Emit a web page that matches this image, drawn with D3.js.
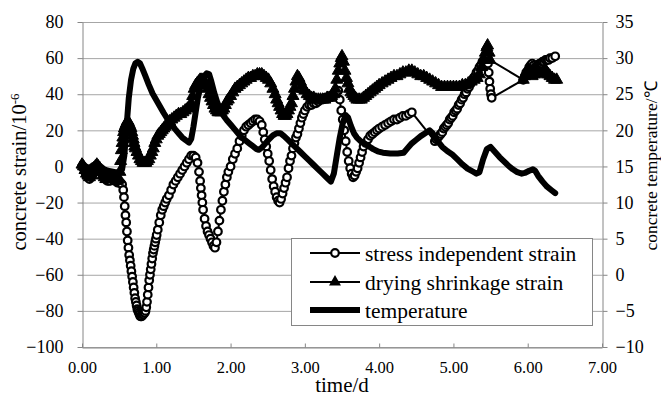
<!DOCTYPE html>
<html>
<head>
<meta charset="utf-8">
<script src="https://cdn.jsdelivr.net/npm/d3@7"></script>
<style>
  html, body { margin: 0; padding: 0; background: #fff; }
  svg { display: block; font-family: "Liberation Serif", "Times New Roman", serif; }
  svg text { font-family: "Liberation Serif", "Times New Roman", serif; }
</style>
</head>
<body>
<svg id="chart" width="661" height="396"></svg>
<script>
// ---------------- DATA ----------------
const xTicks = [0, 1, 2, 3, 4, 5, 6, 7];
const yLeftTicks = [-100, -80, -60, -40, -20, 0, 20, 40, 60, 80];
const yRightTicks = [-10, -5, 0, 5, 10, 15, 20, 25, 30, 35];
const seriesNames = ["stress independent strain", "drying shrinkage strain", "temperature"];

// stress independent strain (time/d , strain 10^-6)
const circT = [0.00,0.02,0.04,0.06,0.08,0.10,0.12,0.14,0.16,0.18,0.20,0.22,0.24,0.26,0.28,0.30,0.32,0.34,0.36,0.38,0.40,0.42,0.44,0.46,0.48,0.50,0.52,0.54,
  0.555,0.565,0.575,0.585,0.595,0.605,0.615,0.625,0.635,0.645,0.655,0.665,0.675,0.685,0.695,0.705,0.715,0.725,0.735,0.745,0.755,0.765,0.775,0.785,0.795,0.805,0.815,0.825,0.835,0.845,0.855,0.865,0.875,0.885,0.895,0.905,0.915,0.925,0.935,0.945,0.955,0.965,0.975,0.985,0.995,1.005,
  1.02,1.04,1.06,1.08,1.10,1.12,1.14,1.17,1.20,1.23,1.26,1.29,1.32,1.35,1.38,1.41,1.44,1.47,1.50,1.53,1.555,1.575,1.59,1.60,1.61,1.62,1.63,1.65,1.67,1.69,1.71,1.73,1.75,1.77,1.79,
  1.81,1.83,1.85,1.87,1.89,1.91,1.93,1.95,1.97,2.00,2.03,2.06,2.09,2.12,2.15,2.18,2.21,2.24,2.27,2.30,2.33,2.36,2.39,2.42,2.44,2.46,2.48,2.50,2.52,2.54,2.56,2.58,2.60,2.62,2.64,2.66,
  2.68,2.70,2.72,2.74,2.76,2.78,2.80,2.82,2.84,2.86,2.88,2.90,2.92,2.94,2.96,2.98,3.00,3.03,3.06,3.09,3.12,3.15,3.18,3.21,3.24,3.27,3.30,3.33,3.36,3.39,3.42,3.45,
  3.47,3.49,3.51,3.53,3.55,3.57,3.59,3.61,3.63,3.65,3.67,3.69,3.71,3.73,3.75,3.77,3.79,3.82,3.85,3.88,3.91,3.94,3.97,4.00,4.04,4.08,4.12,4.16,4.20,4.24,4.28,4.32,4.36,4.40,4.44,
  4.75,4.77,4.79,4.81,4.83,4.85,4.87,4.89,4.91,4.93,4.95,4.97,4.99,5.01,5.03,5.05,5.07,5.09,5.11,5.13,5.15,5.17,5.19,5.21,5.23,5.25,5.27,5.29,5.31,5.33,5.35,5.37,5.39,5.41,5.43,5.45,
  5.465,5.475,5.485,5.495,5.505,5.515,
  5.94,5.96,5.98,6.00,6.02,6.04,6.06,6.08,6.10,6.12,6.14,6.16,6.18,6.20,6.22,6.24,6.26,6.28,6.30,6.33,6.37];
const circV = [0,-1,-3,-5,-6,-7,-6,-5,-3,-2,-1,-1,-2,-3,-5,-6,-7,-8,-8,-8,-7,-7,-8,-8,-9,-9,-9,-10,
  -13,-17,-22,-27,-31,-36,-41,-45,-49,-52,-55,-58,-61,-64,-67,-70,-73,-75,-77,-79,-80,-81,-82,-83,-83,-83,-82,-82,-81,-81,-80,-78,-75,-71,-67,-63,-60,-57,-54,-51,-48,-46,-44,-42,-40,-38,
  -35,-31,-27,-24,-22,-20,-18,-16,-13,-10,-8,-6,-4,-2,0,2,4,6,6,5,2,-3,-8,-12,-16,-20,-24,-29,-33,-36,-38,-40,-42,-44,-45,
  -42,-36,-30,-24,-19,-14,-10,-6,-3,0,4,7,10,14,17,20,22,23,24,25,26,26,25,23,19,15,11,7,3,-2,-7,-11,-14,-17,-19,-20,
  -18,-15,-12,-9,-6,-1,3,6,10,13,16,18,21,24,27,29,31,33,34,34,35,35,36,37,37,38,38,39,39,40,41,42,
  37,31,26,20,14,8,3,-1,-4,-6,-5,-3,-1,2,5,8,11,13,15,17,18,19,20,21,22,23,24,25,26,26,27,28,28,29,30,
  14,15,16,17,18,19,21,22,23,24,26,27,28,30,31,32,34,35,37,38,40,41,43,44,46,47,49,50,52,53,55,56,58,59,61,62,
  57,52,47,43,40,38,
  48,50,52,53,55,56,57,56,55,55,56,57,57,58,58,59,59,59,60,60,61];

// drying shrinkage strain (time/d , strain 10^-6)
const triT = [0.00,0.02,0.04,0.06,0.08,0.10,0.12,0.14,0.16,0.18,0.20,0.22,0.24,0.26,0.28,0.30,0.32,0.34,0.36,0.38,0.40,0.42,0.44,0.46,0.48,0.50,
  0.51,0.52,0.53,0.54,0.55,0.56,0.57,0.58,0.59,0.60,0.61,0.62,0.63,0.64,0.65,0.66,0.67,0.68,0.69,0.70,0.71,0.72,0.74,0.76,0.78,0.80,0.82,0.84,0.86,0.88,0.90,0.92,0.94,0.96,0.98,
  1.00,1.02,1.04,1.06,1.08,1.10,1.12,1.15,1.18,1.21,1.24,1.27,1.30,1.33,1.36,1.39,1.42,1.45,1.47,1.49,1.51,1.53,1.55,1.57,1.59,1.61,1.63,1.65,1.67,1.69,1.71,1.73,1.75,1.77,1.79,
  1.81,1.83,1.85,1.87,1.89,1.91,1.93,1.95,1.97,2.00,2.03,2.06,2.09,2.12,2.15,2.18,2.21,2.24,2.27,2.30,2.33,2.36,2.39,2.42,2.45,2.48,2.51,2.54,2.57,2.60,2.62,2.64,2.66,2.68,2.70,
  2.72,2.74,2.76,2.78,2.80,2.82,2.84,2.86,2.88,2.90,2.92,2.94,2.96,2.98,3.00,3.03,3.06,3.09,3.12,3.15,3.18,3.21,3.24,3.27,3.30,3.33,3.36,3.39,3.41,3.43,3.45,3.47,3.49,3.50,
  3.52,3.54,3.56,3.58,3.60,3.62,3.64,3.66,3.68,3.70,3.73,3.76,3.79,3.82,3.85,3.88,3.91,3.94,3.97,4.00,4.04,4.08,4.12,4.16,4.20,4.24,4.28,4.32,4.36,4.40,4.44,
  4.48,4.52,4.56,4.60,4.64,4.68,4.72,4.76,4.80,4.84,4.88,4.92,4.96,5.00,5.04,5.08,5.12,5.16,5.20,5.24,5.28,5.32,5.35,5.38,5.41,5.43,5.45,5.46,5.48,5.49,
  5.94,5.96,5.98,6.00,6.02,6.04,6.06,6.08,6.10,6.12,6.14,6.16,6.18,6.20,6.22,6.24,6.26,6.28,6.30,6.33,6.36,6.39];
const triV = [1,0,-2,-4,-5,-6,-5,-3,-1,0,1,0,-1,-3,-5,-6,-7,-7,-7,-6,-6,-7,-7,-8,-8,-7,
  -3,3,9,13,16,19,21,22,23,24,25,25,24,23,22,21,19,17,15,13,11,10,8,6,4,3,2,2,2,3,4,6,8,10,13,
  15,17,18,19,20,21,22,23,25,26,27,28,29,29,30,31,32,33,35,39,43,45,46,47,48,48,48,47,45,43,40,38,36,34,32,
  31,30,30,30,31,32,34,36,37,39,41,43,44,45,46,47,48,49,49,50,50,51,51,51,50,49,48,46,43,40,37,35,33,31,29,
  28,28,29,31,33,35,39,43,47,50,49,47,45,43,42,40,39,38,38,37,37,37,37,37,38,38,39,40,43,48,53,57,60,61,
  58,53,49,46,43,41,40,39,38,37,37,37,38,39,40,41,42,43,44,45,46,47,48,49,50,50,51,52,52,53,53,
  52,51,50,50,49,48,47,46,45,44,44,44,44,44,44,44,45,45,46,47,48,49,51,55,59,63,66,67,63,59,
  48,50,52,53,52,51,50,51,52,53,53,52,51,52,53,53,52,51,50,49,48,48];

// temperature (time/d , °C)
const tempT = [0.00,0.05,0.10,0.15,0.20,0.25,0.30,0.35,0.40,0.45,0.50,0.54,0.57,0.60,0.63,0.66,0.69,0.72,0.75,0.78,0.81,0.85,0.90,0.95,1.00,1.05,1.10,1.15,1.20,1.25,1.30,1.35,1.40,1.44,1.47,
  1.50,1.53,1.56,1.60,1.64,1.68,1.71,1.74,1.78,1.82,1.86,1.90,1.95,2.00,2.05,2.10,2.15,2.20,2.25,2.30,2.35,2.38,2.42,2.47,2.52,2.57,2.62,2.67,2.72,2.77,2.82,2.88,2.94,
  3.00,3.06,3.12,3.18,3.24,3.30,3.35,3.39,3.43,3.47,3.51,3.55,3.58,3.62,3.66,3.70,3.75,3.80,3.86,3.92,3.98,4.05,4.15,4.25,4.33,4.38,4.44,4.50,4.56,4.62,4.68,
  4.72,4.78,4.85,4.92,4.98,5.05,5.12,5.19,5.26,5.31,5.35,5.40,5.45,5.50,5.56,5.62,5.68,5.74,5.80,5.86,5.92,5.96,6.02,6.07,6.10,6.14,6.20,6.26,6.32,6.37];
const tempV = [15.5,15.0,14.8,15.2,15.4,15.0,14.6,14.4,14.3,14.2,14.2,14.6,16.5,20.5,24.5,27.0,28.5,29.3,29.5,29.3,28.6,27.6,26.3,25.1,24.2,23.3,22.4,21.6,20.9,20.2,19.6,19.0,18.6,18.3,18.8,
  20.5,22.5,24.5,26.3,27.4,27.9,27.8,26.8,25.2,23.9,22.9,22.1,21.4,20.8,20.2,19.6,19.0,18.6,18.2,17.8,17.4,17.3,17.6,18.2,18.8,19.3,19.6,19.6,19.2,18.7,18.2,17.6,17.0,
  16.4,15.8,15.2,14.6,14.0,13.4,12.9,14.0,16.5,19.0,21.0,22.1,21.8,20.6,19.6,19.0,18.5,18.2,17.8,17.4,17.1,16.9,16.8,16.8,16.9,17.5,18.2,18.7,19.2,19.6,20.0,
  19.6,18.6,17.7,17.1,16.7,16.0,15.3,14.7,14.3,14.0,14.2,16.0,17.4,17.7,17.0,16.3,15.7,15.1,14.6,14.2,14.0,14.1,14.4,14.6,14.4,13.7,12.9,12.2,11.7,11.3];

// ---------------- CHART ----------------
const svg = d3.select("#chart");
const W = 661, H = 396;
const m = {l: 82, r: 59, t: 22, b: 49};
const x = d3.scaleLinear().domain([0, 7]).range([m.l, W - m.r]);
const yL = d3.scaleLinear().domain([-100, 80]).range([H - m.b, m.t]);
const yR = d3.scaleLinear().domain([-10, 35]).range([H - m.b, m.t]);
const axisCol = "#868686";
const gridCol = "#a6a6a6";
const FONT = "Liberation Serif";

// gridlines
svg.append("g").selectAll("line").data(yLeftTicks).join("line")
  .attr("x1", x(0)).attr("x2", x(7))
  .attr("y1", d => yL(d) + 0.5).attr("y2", d => yL(d) + 0.5)
  .attr("stroke", gridCol).attr("stroke-width", 1);

// axes
function styleAxis(g, fs) {
  g.attr("font-family", FONT).attr("font-size", fs);
  g.selectAll(".domain").attr("stroke", axisCol).attr("stroke-width", 1);
  g.selectAll(".tick line").attr("stroke", axisCol).attr("stroke-width", 1);
  g.selectAll("text").attr("fill", "#000").style("font-family", FONT).style("font-size", fs + "px");
}
const gL = svg.append("g").attr("transform", `translate(${m.l + 0.5},0)`)
  .call(d3.axisLeft(yL).tickValues(yLeftTicks).tickSizeInner(5).tickSizeOuter(0).tickPadding(14).tickFormat(d3.format("d")));
styleAxis(gL, 18);
const gR = svg.append("g").attr("transform", `translate(${W - m.r + 0.5},0)`)
  .call(d3.axisRight(yR).tickValues(yRightTicks).tickSizeInner(5).tickSizeOuter(0).tickPadding(8).tickFormat(d3.format("d")));
styleAxis(gR, 18);
const gB = svg.append("g").attr("transform", `translate(0,${H - m.b + 0.5})`)
  .call(d3.axisBottom(x).tickValues(xTicks).tickSizeInner(-4).tickSizeOuter(0).tickPadding(14).tickFormat(d3.format(".2f")));
styleAxis(gB, 16.5);

// axis titles
svg.append("text").attr("transform", `translate(26,172) rotate(-90)`)
  .attr("text-anchor", "middle").style("font-size", "20.5px")
  .call(t => {
    t.append("tspan").text("concrete strain/10");
    t.append("tspan").attr("dy", "-0.55em").style("font-size", "13px").text("-6");
  });
svg.append("text").attr("transform", `translate(657,166) rotate(-90)`)
  .attr("text-anchor", "middle").style("font-size", "17.5px")
  .text("concrete temperature/℃");
svg.append("text").attr("x", (m.l + W - m.r) / 2).attr("y", 392)
  .attr("text-anchor", "middle").style("font-size", "21px").text("time/d");

// series data
const circ = circT.map((t, i) => ({t, v: circV[i]}));
const tri = triT.map((t, i) => ({t, v: triV[i]}));
const temp = tempT.map((t, i) => ({t, v: tempV[i]}));

const lineL = d3.line().x(d => x(d.t)).y(d => yL(d.v));
const lineR = d3.line().x(d => x(d.t)).y(d => yR(d.v));
const triSym = d3.symbol().type(d3.symbolTriangle).size(62);

// stress independent strain
svg.append("path").datum(circ).attr("d", lineL).attr("fill", "none").attr("stroke", "#000").attr("stroke-width", 2);
svg.append("g").selectAll("circle").data(circ).join("circle")
  .attr("cx", d => x(d.t)).attr("cy", d => yL(d.v)).attr("r", 3.8)
  .attr("fill", "#fff").attr("stroke", "#000").attr("stroke-width", 2.2);

// drying shrinkage strain
svg.append("path").datum(tri).attr("d", lineL).attr("fill", "none").attr("stroke", "#000").attr("stroke-width", 2);
svg.append("g").selectAll("path").data(tri).join("path")
  .attr("transform", d => `translate(${x(d.t)},${yL(d.v)})`).attr("d", triSym)
  .attr("fill", "#000").attr("stroke", "#000").attr("stroke-width", 1);

// temperature
svg.append("path").datum(temp).attr("d", lineR).attr("fill", "none").attr("stroke", "#000")
  .attr("stroke-width", 6).attr("stroke-linejoin", "round").attr("stroke-linecap", "round");

// legend
const lg = svg.append("g");
lg.append("rect").attr("x", 291.5).attr("y", 238.5).attr("width", 301).attr("height", 87)
  .attr("fill", "#fff").attr("stroke", axisCol).attr("stroke-width", 1);
const rowY = [253, 282, 310];
seriesNames.forEach((name, i) => {
  const y = rowY[i];
  lg.append("line").attr("x1", 310).attr("x2", 360).attr("y1", y).attr("y2", y)
    .attr("stroke", "#000").attr("stroke-width", i === 2 ? 6 : 2);
  if (i === 0) lg.append("circle").attr("cx", 335).attr("cy", y).attr("r", 3.8)
    .attr("fill", "#fff").attr("stroke", "#000").attr("stroke-width", 2.2);
  if (i === 1) lg.append("path").attr("transform", `translate(335,${y})`).attr("d", triSym).attr("fill", "#000");
  lg.append("text").attr("x", 365).attr("y", y).attr("dy", "0.35em")
    .style("font-size", "21.5px").text(name);
});
</script>
</body>
</html>
